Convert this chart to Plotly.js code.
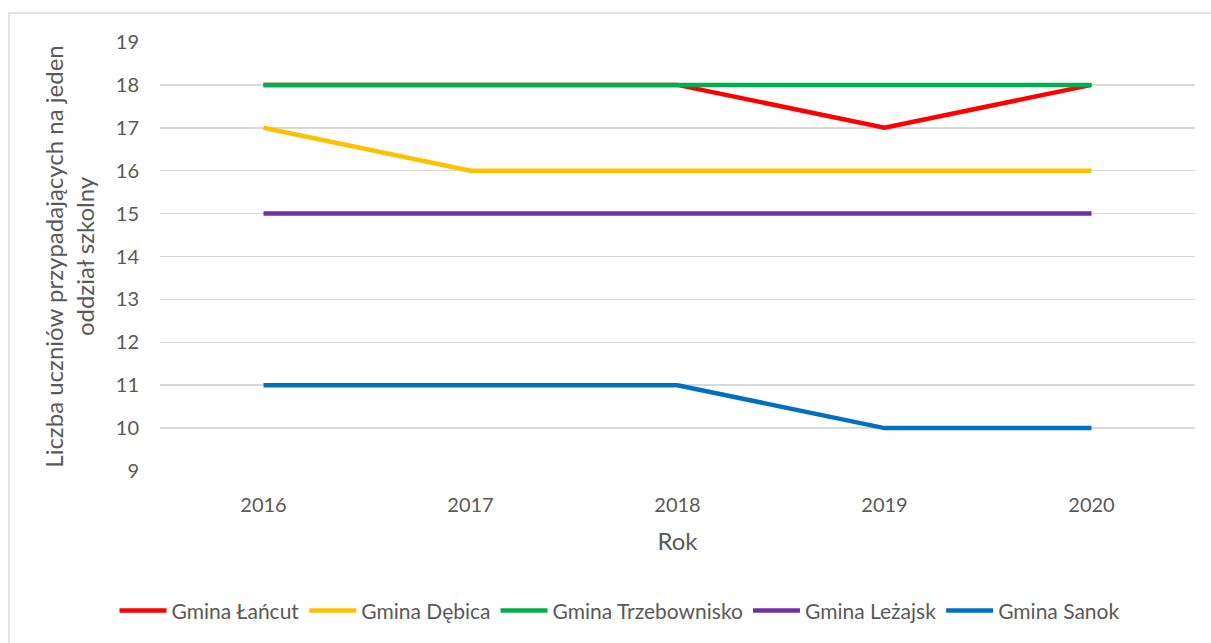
<!DOCTYPE html>
<html><head><meta charset="utf-8">
<script src="https://cdn.plot.ly/plotly-3.0.1.min.js"></script>
<style>body{margin:0;background:#fff}#c{width:1211px;height:643px}</style>
</head><body><div id="c"></div>
<script>
const years = ['2016','2017','2018','2019','2020'];
const seriesNames = ['Gmina Łańcut','Gmina Dębica','Gmina Trzebownisko','Gmina Leżajsk','Gmina Sanok'];
const lancut = [18,18,18,17,18];
const debica = [17,16,16,16,16];
const trzebownisko = [18,18,18,18,18];
const lezajsk = [15,15,15,15,15];
const sanok = [11,11,11,10,10];
const colors = ['#FF0000','#FFC000','#00B050','#7030A0','#0070C0'];
const values = [lancut, debica, trzebownisko, lezajsk, sanok];

const FONT = 'Lato, "Open Sans", sans-serif';
const traces = values.map((v,i)=>({
  x: years, y: v, name: seriesNames[i], type:'scatter', mode:'lines',
  line:{color:colors[i], width:4.5}
}));

const layout = {
  width:1211, height:643,
  margin:{l:160, r:16, t:42, b:172},
  paper_bgcolor:'#fff', plot_bgcolor:'#fff',
  font:{family:FONT, color:'#595959', size:20},
  showlegend:true,
  legend:{orientation:'h', x:0.444, xanchor:'center', y:-0.326, yanchor:'middle',
    font:{size:21, color:'#595959'}, itemwidth:47, traceorder:'normal'},
  xaxis:{type:'category', range:[-0.5,4.5], showgrid:false, zeroline:false, showline:false,
    ticks:'outside', ticklen:16, tickcolor:'rgba(0,0,0,0)',
    tickfont:{size:20, color:'#595959'},
    title:{text:'Rok', font:{size:24, color:'#595959'}, standoff:18}},
  yaxis:{range:[9,19], dtick:1, tick0:9, showgrid:true, gridcolor:'#D9D9D9', gridwidth:1.5,
    zeroline:false, showline:false, ticks:'outside', ticklen:16, tickcolor:'rgba(0,0,0,0)',
    tickfont:{size:20, color:'#595959'},
    title:{text:'Liczba uczniów przypadających na jeden<br>oddział szkolny', font:{size:24, color:'#595959'}, standoff:14}},
  shapes:[{type:'rect', xref:'paper', yref:'paper', x0:-0.1459, x1:1.02, y0:-0.42, y1:1.0676,
    line:{color:'#D9D9D9', width:1.5}, fillcolor:'rgba(0,0,0,0)', layer:'below'}]
};
Plotly.newPlot('c', traces, layout, {displayModeBar:false, staticPlot:true});
</script></body></html>
